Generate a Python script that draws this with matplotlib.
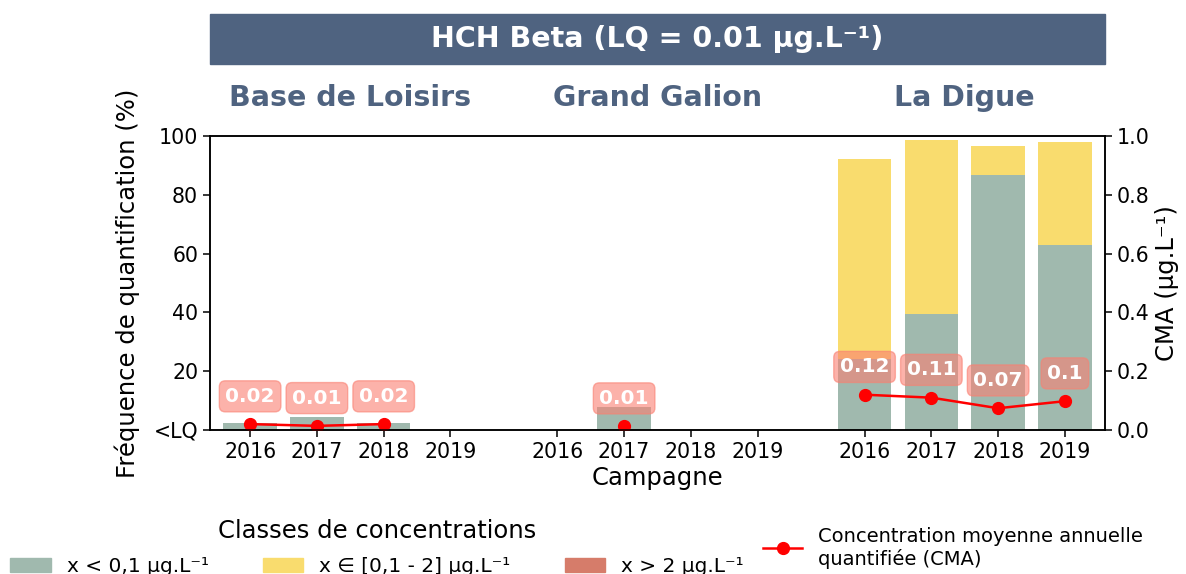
import numpy as np
import matplotlib
matplotlib.use("Agg")
import matplotlib.pyplot as plt
from matplotlib.patches import Rectangle, Patch
from matplotlib.lines import Line2D
import matplotlib.transforms as mtransforms

# ---------------- data ----------------
stations = ["Base de Loisirs", "Grand Galion", "La Digue"]
years = ["2016", "2017", "2018", "2019"]
# frequency of quantification (%) per class, per station (4 years each)
freq_low = [[2.3, 4.5, 2.3, 0.0], [0.0, 7.9, 0.0, 0.0], [24.0, 39.6, 86.6, 62.9]]
freq_mid = [[0.0, 0.0, 0.0, 0.0], [0.0, 0.0, 0.0, 0.0], [68.3, 58.9, 10.0, 35.1]]
freq_high = [[0.0, 0.0, 0.0, 0.0], [0.0, 0.0, 0.0, 0.0], [0.0, 0.0, 0.0, 0.0]]
# mean annual quantified concentration (µg/L)
cma = [[0.02, 0.014, 0.02, np.nan], [np.nan, 0.013, np.nan, np.nan], [0.12, 0.11, 0.074, 0.098]]

title = "HCH Beta (LQ = 0.01 µg.L⁻¹)"
class_labels = ["x < 0,1 µg.L⁻¹", "x ∈ [0,1 - 2] µg.L⁻¹", "x > 2 µg.L⁻¹"]
cma_label = "Concentration moyenne annuelle\nquantifiée (CMA)"

# ---------------- style ----------------
c_low, c_mid, c_high = "#a0b9ae", "#f9dc6e", "#d67c6a"
c_head = "#4f6380"
group_stride = 4.6

fig = plt.figure(figsize=(11.86, 5.74), dpi=100)
ax = fig.add_axes([0.1771, 0.2509, 0.9317 - 0.1771, 0.763 - 0.2509])
ax2 = ax.twinx()

xticks, xlabels = [], []
for g, st in enumerate(stations):
    x = g * group_stride + np.arange(len(years))
    low = np.array(freq_low[g]); mid = np.array(freq_mid[g]); high = np.array(freq_high[g])
    ax.bar(x, low, width=0.8, color=c_low)
    ax.bar(x, mid, width=0.8, bottom=low, color=c_mid)
    ax.bar(x, high, width=0.8, bottom=low + mid, color=c_high)
    xticks += list(x); xlabels += years
    vals = np.array(cma[g])
    ax2.plot(x, vals, color="red", marker="o", markersize=8.5, linewidth=1.8)
    for xi, v in zip(x, vals):
        if np.isnan(v):
            continue
        ax2.annotate(f"{round(v, 2):g}", (xi, v), xytext=(0, 20), textcoords="offset points",
                     ha="center", va="center", color="white", fontsize=14.5, fontweight="bold",
                     bbox=dict(boxstyle="round,pad=0.3", fc="salmon", ec="salmon", alpha=0.6))
    # station name
    trans = mtransforms.blended_transform_factory(ax.transData, ax.transAxes)
    ax.text(x.mean(), 1.129, st, transform=trans, ha="center", va="center",
            fontsize=20.5, fontweight="bold", color=c_head)

ax.set_xlim(-0.6, 2 * group_stride + 3 + 0.6)
ax.set_ylim(0, 100)
ax2.set_ylim(0, 1.0)
ax.set_xticks(xticks)
ax.set_xticklabels(xlabels)
ax.set_yticks([0, 20, 40, 60, 80, 100])
ax.set_yticklabels(["<LQ", "20", "40", "60", "80", "100"])
ax2.set_yticks([0, 0.2, 0.4, 0.6, 0.8, 1.0])
ax2.set_yticklabels(["0.0", "0.2", "0.4", "0.6", "0.8", "1.0"])

for a in (ax, ax2):
    a.tick_params(labelsize=14.8, width=1.1, length=5)
    for s in a.spines.values():
        s.set_linewidth(1.1)

ax.set_xlabel("Campagne", fontsize=17.5, labelpad=3)
ax.set_ylabel("Fréquence de quantification (%)", fontsize=17.5, labelpad=10)
ax2.set_ylabel("CMA (µg.L⁻¹)", fontsize=17.5)

# title banner
ax.add_patch(Rectangle((0, 1.245), 1, 0.17, transform=ax.transAxes, color=c_head,
                       clip_on=False, zorder=5))
ax.text(0.5, 1.33, title, transform=ax.transAxes, ha="center", va="center",
        fontsize=20.5, fontweight="bold", color="white", zorder=6)

# legends
handles = [Patch(color=c_low), Patch(color=c_mid), Patch(color=c_high)]
leg1 = fig.legend(handles, class_labels, loc="upper center", bbox_to_anchor=(0.318, 0.127),
                  ncol=3, frameon=False, fontsize=14.5, title="Classes de concentrations",
                  title_fontsize=17.5, columnspacing=2.7, labelspacing=0.7)
leg2 = fig.legend([Line2D([], [], color="red", marker="o", markersize=8.5, linewidth=1.8)],
                  [cma_label], loc="upper left", bbox_to_anchor=(0.629, 0.113),
                  frameon=False, fontsize=14)

fig.savefig("out.png", dpi=100)
